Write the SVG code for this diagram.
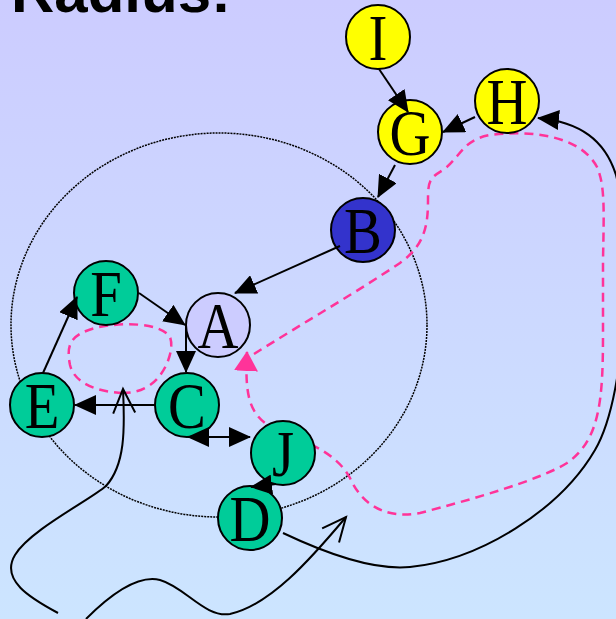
<svg xmlns="http://www.w3.org/2000/svg" width="616" height="619" viewBox="0 0 616 619">
<defs>
<linearGradient id="bg" x1="0" y1="0" x2="0" y2="1">
<stop offset="0" stop-color="#ccccff"/>
<stop offset="1" stop-color="#cce5ff"/>
</linearGradient>
<marker id="arr" viewBox="0 0 22 20" refX="21" refY="10" markerWidth="22" markerHeight="20" markerUnits="userSpaceOnUse" orient="auto-start-reverse">
<path d="M0,0 L22,10 L0,20 z" fill="#000"/>
</marker>
<marker id="parr" viewBox="0 0 20 24" refX="19" refY="12" markerWidth="20" markerHeight="24" markerUnits="userSpaceOnUse" orient="auto">
<path d="M0,0 L20,12 L0,24 z" fill="#ff3399"/>
</marker>
<marker id="open" viewBox="-2 -2 30 26" refX="24" refY="11" markerWidth="30" markerHeight="26" markerUnits="userSpaceOnUse" orient="auto">
<path d="M0,0 L24,11 L0,22" fill="none" stroke="#000" stroke-width="2"/>
</marker>
<style>
.node{stroke:#000;stroke-width:2}
.y{fill:#ffff00}
.g{fill:#00cc99}
.b{fill:#3333cc}
.a{fill:#ccccff}
.lbl{font-family:"Liberation Serif","Times New Roman",serif;font-size:66px;text-anchor:middle;fill:#000}
.edge{fill:none;stroke:#000;stroke-width:2;marker-end:url(#arr)}
.curve{fill:none;stroke:#000;stroke-width:2}
.pink{fill:none;stroke:#ff3399;stroke-width:2.5;stroke-dasharray:9 6}
</style>
</defs>
<rect width="616" height="619" fill="url(#bg)"/>
<text x="11" y="12" font-family="Liberation Sans, Arial, sans-serif" font-weight="bold" font-size="60">Radius:</text>
<g id="radius">
<ellipse cx="219" cy="325" rx="208" ry="192" fill="none" stroke="#000" stroke-width="1.5" stroke-dasharray="2 1"/>
</g>
<g id="paths">
<path class="pink" d="M123 393 C100 392 75 385 70 365 C66 345 70 335 95 328 C120 322 160 322 170 337 C175 350 165 375 150 385 C140 392 130 393 123 393 Z"/>
<path class="pink" marker-end="url(#parr)" d="M254 354 C300 325 360 290 400 263 C425 245 428 225 428 200 C428 180 430 178 443 170 C460 158 462 140 490 135 C530 130 580 135 597 167 C605 185 604 210 603 260 L603 333 C603 400 600 440 567 463 C540 480 470 500 420 513 C380 520 360 500 350 478 C335 450 300 440 265 423 C248 410 245 390 247 352"/>
</g>
<g id="node-I"><circle class="node y" cx="378" cy="37" r="32"/><text class="lbl" transform="translate(378 60) scale(0.86 1)">I</text></g>
<g id="node-H"><circle class="node y" cx="507" cy="101" r="32"/><text class="lbl" transform="translate(507 124) scale(0.86 1)">H</text></g>
<g id="node-G"><circle class="node y" cx="410" cy="132" r="32"/><text class="lbl" transform="translate(410 155) scale(0.86 1)">G</text></g>
<g id="node-B"><circle class="node b" cx="363" cy="230" r="32"/><text class="lbl" transform="translate(363 253) scale(0.86 1)">B</text></g>
<g id="node-A"><circle class="node a" cx="218" cy="325" r="32"/><text class="lbl" transform="translate(218 348) scale(0.86 1)">A</text></g>
<g id="node-F"><circle class="node g" cx="106" cy="293" r="32"/><text class="lbl" transform="translate(106 316) scale(0.86 1)">F</text></g>
<g id="node-E"><circle class="node g" cx="42" cy="405" r="32"/><text class="lbl" transform="translate(42 428) scale(0.86 1)">E</text></g>
<g id="node-C"><circle class="node g" cx="187" cy="405" r="32"/><text class="lbl" transform="translate(187 428) scale(0.86 1)">C</text></g>
<g id="node-J"><circle class="node g" cx="283" cy="453" r="32"/><text class="lbl" transform="translate(283 476) scale(0.86 1)">J</text></g>
<g id="node-D"><circle class="node g" cx="250" cy="518" r="32"/><text class="lbl" transform="translate(250 541) scale(0.86 1)">D</text></g>
<g id="connectors">
<line class="edge" x1="379" y1="69" x2="408" y2="112"/>
<line class="edge" x1="475" y1="117" x2="443" y2="132"/>
<line class="edge" x1="395" y1="165" x2="378" y2="197"/>
<line class="edge" x1="340" y1="246" x2="235" y2="293"/>
<line class="edge" x1="139" y1="293" x2="185" y2="325"/>
<line class="edge" x1="186" y1="325" x2="186" y2="372"/>
<line class="edge" x1="155" y1="405" x2="75" y2="405"/>
<line class="edge" x1="43" y1="373" x2="77" y2="297"/>
<line class="edge" x1="188" y1="437" x2="250" y2="437" marker-start="url(#arr)"/>
<line class="edge" x1="276" y1="484" x2="251" y2="487"/>
<path class="curve" marker-end="url(#arr)" d="M283 533 C340 560 380 570 410 567 C480 560 560 510 595 450 C630 390 630 230 616 175 C605 140 580 122 538 118"/>
<path class="curve" marker-end="url(#open)" d="M58 613 C30 598 0 580 15 555 C30 530 90 500 106 486 C125 465 125 430 123 389"/>
<path class="curve" marker-end="url(#open)" d="M86 619 C115 590 140 575 160 580 C185 587 205 618 230 614 C270 605 310 560 346 517"/>
</g>
</svg>
